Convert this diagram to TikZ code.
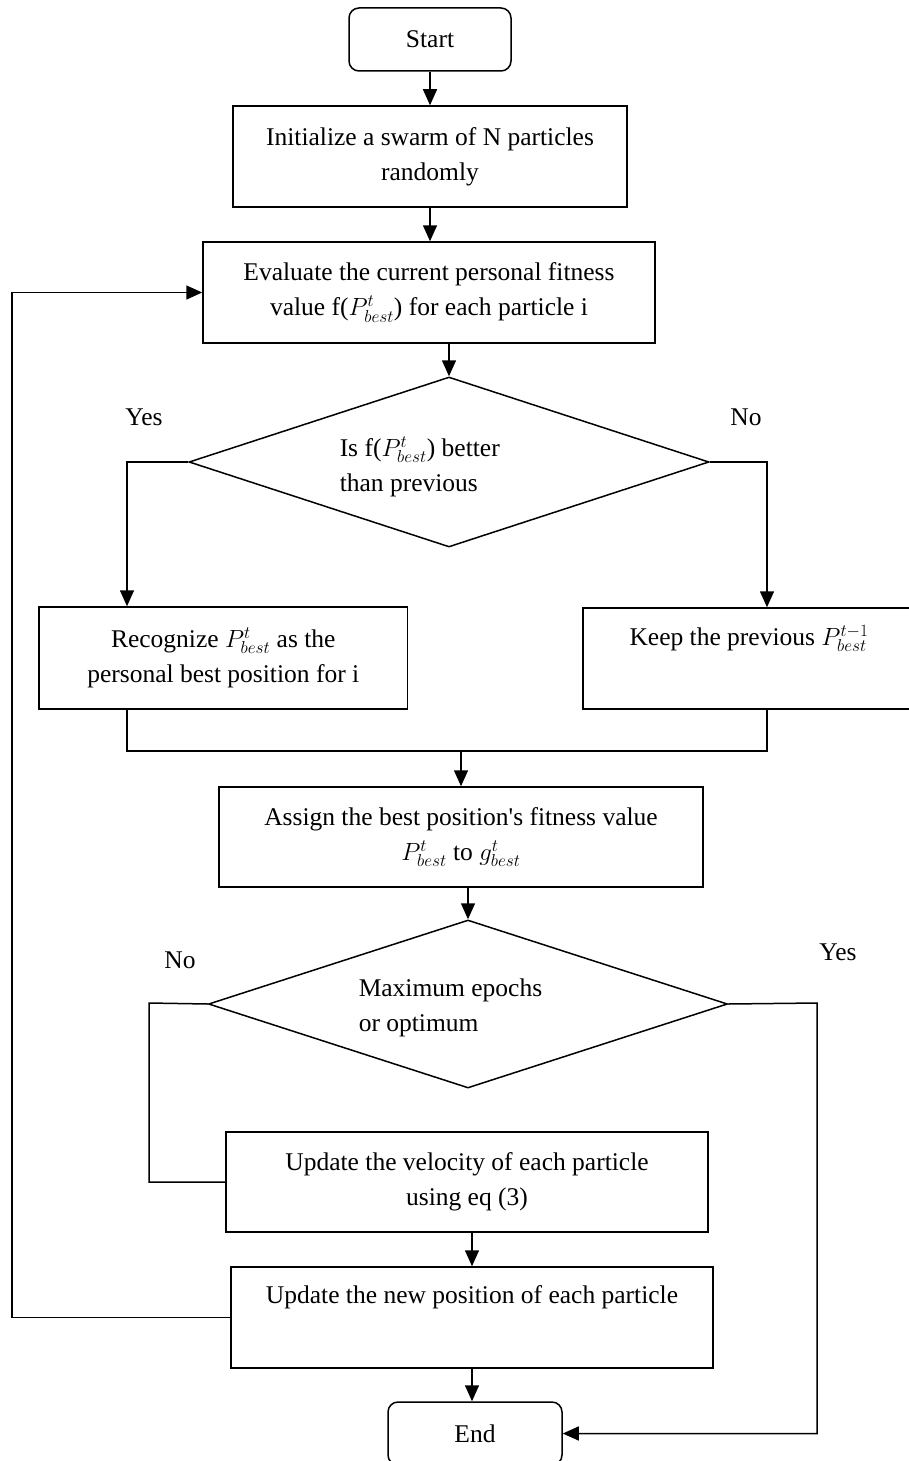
\documentclass[tikz,border=0pt]{standalone}
\usepackage{fontspec}
\setmainfont{Liberation Serif}
\usetikzlibrary{shapes.geometric,arrows.meta}
\newcommand\myfs{\fontsize{25.5}{35}\selectfont}
\begin{document}
\begin{tikzpicture}[x=1pt,y=-1pt,line width=1.5pt,
  box/.style={draw,rectangle,inner sep=0pt,align=center,font=\myfs},
  term/.style={box,rounded corners=10pt},
  dia/.style={draw,diamond,inner sep=0pt},
  lbl/.style={inner sep=0pt,font=\myfs},
  arr/.style={-{Triangle[length=16pt,width=14pt]}}]
\useasboundingbox (0,0) rectangle (909,1461);
\clip (0,0) rectangle (909,1461);

\node[term,minimum width=162pt,minimum height=63pt] (start) at (430,39.5) {Start};
\node[box,minimum width=394pt,minimum height=101pt] (init) at (430,156.5) {Initialize a swarm of N particles\\randomly};
\node[box,minimum width=452pt,minimum height=101pt] (eval) at (429,292.5) {Evaluate the current personal fitness\\value f($P^{t}_{best}$) for each particle i};
\node[dia,minimum width=520pt,minimum height=170pt] (d1) at (449,462) {};
\node[lbl,anchor=west,align=left] (d1t) at (339,467) {Is f($P^{t}_{best}$) better\\than previous};
\node[lbl] (yes1) at (144,417) {Yes};
\node[lbl] (no1) at (746,417) {No};
\node[box,minimum width=368.5pt,minimum height=102pt] (reco) at (223.25,658) {Recognize $P^{t}_{best}$ as the\\personal best position for i};
\node[box,minimum width=332pt,minimum height=101pt] (keep) at (749,658.5) {Keep the previous $P^{t-1}_{best}$\\\strut};
\node[box,minimum width=484pt,minimum height=100pt] (assign) at (461,837) {Assign the best position\textquotesingle s fitness value\\$P^{t}_{best}$ to $g^{t}_{best}$};
\node[dia,minimum width=519pt,minimum height=168pt] (d2) at (468,1004) {};
\node[lbl,anchor=west,align=left] (d2t) at (358,1008) {Maximum epochs\\or optimum};
\node[lbl] (no2) at (180,960) {No};
\node[lbl] (yes2) at (838,952) {Yes};
\node[box,minimum width=482pt,minimum height=100pt] (vel) at (467,1182) {Update the velocity of each particle\\using eq (3)};
\node[box,minimum width=482pt,minimum height=101pt] (pos) at (472,1317.5) {Update the new position of each particle\\\strut};
\node[term,minimum width=174pt,minimum height=63pt] (end) at (475,1433.5) {End};

\coordinate (jl) at (127,751);
\coordinate (jr) at (767,751);
\coordinate (nl) at (149,1003);
\coordinate (yr) at (817,1003);
\coordinate (lp) at (12,0);

\draw[arr] (start.south -| init.north) -- (init.north);
\draw[arr] (init.south) -- (init.south |- eval.north);
\draw[arr] (eval.south -| d1.north) -- (d1.north);
\draw[arr] (d1.west) -| (jl |- reco.north);
\draw[arr] (d1.east) -| (jr |- keep.north);
\draw (jl |- reco.south) -- (jl) -- (jr) -- (jr |- keep.south);
\draw[arr] (assign.north |- jl) -- (assign.north);
\draw[arr] (assign.south -| d2.north) -- (d2.north);
\draw (d2.west) -- (nl) |- (vel.west);
\draw[arr] (d2.east) -- (yr) |- (end.east);
\draw[arr] (vel.south -| pos.north) -- (pos.north);
\draw[arr] (pos.south) -- (pos.south |- end.north);
\draw[arr] (pos.west) -- (pos.west -| lp) -- (lp |- eval.west) -- (eval.west);
\end{tikzpicture}
\end{document}
